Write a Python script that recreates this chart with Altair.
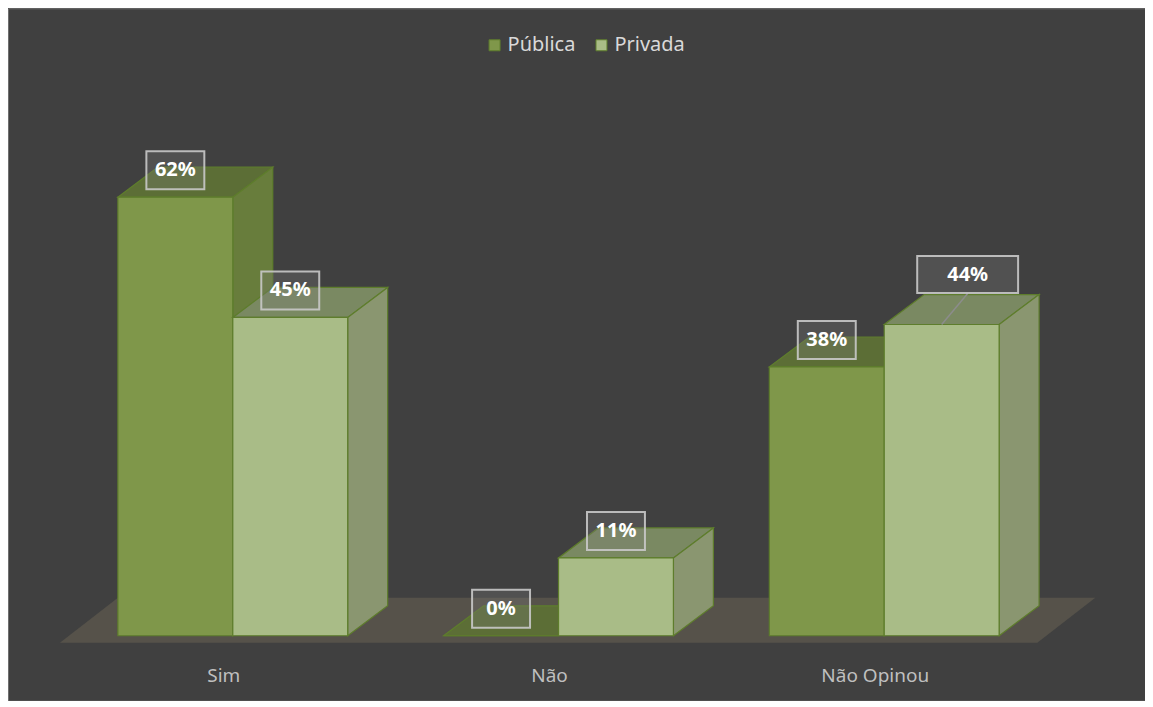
import altair as alt
import pandas as pd

# ---- data ----
categories = ["Sim", "Não", "Não Opinou"]
series = ["Pública", "Privada"]
publica = [62, 0, 38]
privada = [45, 11, 44]

# ---- layout / style constants ----
W, H = 1138, 693
CAT_PX = 326.0          # pixels per category step
VAL_PX = 7.08           # pixels per percentage point
X0_PX = 225.0           # pixel of first category centre
Y0_PX = 628.0           # pixel of value 0
BAR_W = 115 / CAT_PX
DX = 40 / CAT_PX        # 3D depth (x)
DY = 30 / VAL_PX        # 3D depth (y)
FDX = 58 / CAT_PX
FDY = 45 / VAL_PX
F0 = -7 / VAL_PX
FONT = "Noto Sans"

x_dom = [-X0_PX / CAT_PX, (W - X0_PX) / CAT_PX]
y_dom = [-(H - Y0_PX) / VAL_PX, Y0_PX / VAL_PX]

values = {"Pública": publica, "Privada": privada}
front_fill = {"Pública": "#7f974a", "Privada": "#a9bc87"}
top_fill = {"Pública": "#5c6e36", "Privada": "#7a8962"}
side_fill = {"Pública": "#687d3c", "Privada": "#8a9670"}
EDGE = "#5e7d2c"

fronts, tops, sides, labels = [], [], [], []
for j, s in enumerate(series):
    for i, (c, v) in enumerate(zip(categories, values[s])):
        x0 = i - BAR_W + j * BAR_W
        x1 = x0 + BAR_W
        key = f"{s}-{c}"
        fronts.append(dict(serie=s, cat=c, x=x0, x2=x1, y=0, y2=v))
        for xx, lo, hi in [(x0, v, v), (x0 + DX, v, v + DY),
                           (x1, v, v + DY), (x1 + DX, v + DY, v + DY)]:
            tops.append(dict(serie=s, key=key, x=xx, lo=lo, hi=hi))
        for xx, lo, hi in [(x1, 0, v), (x1 + DX, DY, v + DY)]:
            sides.append(dict(serie=s, key=key, x=xx, lo=lo, hi=hi))
        labels.append(dict(serie=s, cat=c, x=(x0 + x1) / 2, v=v,
                           text=f"{v}%",
                           callout=(s == "Privada" and c == "Não Opinou")))

fronts = pd.DataFrame(fronts)
tops = pd.DataFrame(tops)
sides = pd.DataFrame(sides)
labels = pd.DataFrame(labels)

FL = -BAR_W - FDX
FR = (len(categories) - 1) + 0.47
floor = pd.DataFrame([
    dict(x=FL, lo=F0, hi=F0),
    dict(x=FL + FDX, lo=F0, hi=F0 + FDY),
    dict(x=FR, lo=F0, hi=F0 + FDY),
    dict(x=FR + FDX, lo=F0 + FDY, hi=F0 + FDY),
])

cats = pd.DataFrame(dict(cat=categories,
                         x=[i - 9 / CAT_PX for i in range(len(categories))]))

xs = alt.Scale(domain=x_dom, nice=False, zero=False)
ys = alt.Scale(domain=y_dom, nice=False, zero=False)
X = lambda f="x": alt.X(f"{f}:Q", scale=xs, axis=None)
Y = lambda f: alt.Y(f"{f}:Q", scale=ys, axis=None)

layers = []
layers.append(alt.Chart(floor).mark_area(color="#56524a", orient="vertical")
              .encode(x=X(), y=Y("lo"), y2="hi"))

legend = alt.Legend(title=None, orient="none", legendX=477, legendY=27,
                    direction="horizontal", symbolType="square", symbolSize=121,
                    symbolStrokeColor=EDGE, symbolStrokeWidth=1,
                    labelFont=FONT, labelFontSize=20, labelColor="#d9d9d9",
                    columnPadding=16, labelOffset=3)

for s in series:
    t = tops[tops.serie == s]
    sd = sides[sides.serie == s]
    fr = fronts[fronts.serie == s]
    layers.append(alt.Chart(t).mark_area(fill=top_fill[s], stroke=EDGE, strokeWidth=1.2,
                                         orient="vertical")
                  .encode(x=X(), y=Y("lo"), y2="hi", detail="key:N"))
    layers.append(alt.Chart(sd).mark_area(fill=side_fill[s], stroke=EDGE, strokeWidth=1.2,
                                          orient="vertical")
                  .encode(x=X(), y=Y("lo"), y2="hi", detail="key:N"))
    layers.append(alt.Chart(fr).mark_rect(stroke=EDGE, strokeWidth=1.2)
                  .encode(x=X(), x2="x2:Q", y=Y("y"), y2="y2:Q",
                          color=alt.Color("serie:N",
                                          scale=alt.Scale(domain=series,
                                                          range=[front_fill[k] for k in series]),
                                          legend=legend)))

BOX = "M-1,-0.655L1,-0.655L1,0.655L-1,0.655Z"
WBOX = "M-1,-0.366L1,-0.366L1,0.366L-1,0.366Z"
normal = labels[~labels.callout]
call = labels[labels.callout]

box_style = dict(filled=True, fill="#7f7f7f", fillOpacity=0.28, stroke="#c9c9c9",
                 strokeWidth=2, strokeOpacity=0.9, opacity=1)
layers.append(alt.Chart(normal).mark_point(shape=BOX, size=58 * 58, yOffset=-27, **box_style)
              .encode(x=X(), y=Y("v")))
layers.append(alt.Chart(normal).mark_text(font=FONT, fontSize=20, fontWeight="bold",
                                          color="#ffffff", dy=-27)
              .encode(x=X(), y=Y("v"), text="text:N"))

layers.append(alt.Chart(call).mark_rule(color="#8c8c8c", strokeWidth=1.5,
                                        x2Offset=26, y2Offset=-31)
              .encode(x=X(), y=Y("v"), x2="x:Q", y2="v:Q"))
layers.append(alt.Chart(call).mark_point(shape=WBOX, size=101 * 101, xOffset=26, yOffset=-50,
                                         **box_style)
              .encode(x=X(), y=Y("v")))
layers.append(alt.Chart(call).mark_text(font=FONT, fontSize=20, fontWeight="bold",
                                        color="#ffffff", dx=26, dy=-50)
              .encode(x=X(), y=Y("v"), text="text:N"))

layers.append(alt.Chart(cats).mark_text(font=FONT, fontSize=19, color="#bfbfbf",
                                        baseline="middle")
              .encode(x=X(), y=alt.value(668), text="cat:N"))

chart = alt.layer(*layers).properties(
    width=W, height=H, background="#404040", padding=0,
    autosize=alt.AutoSizeParams(type="none"),
).configure_view(stroke="#707070", strokeWidth=1)

chart.save("out.html", embed_options={"renderer": "svg", "actions": False})
